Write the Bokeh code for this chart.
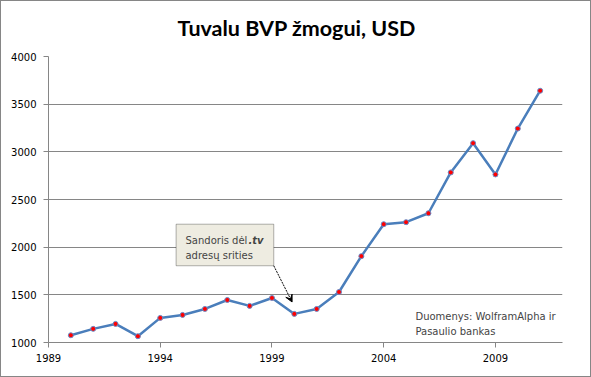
from bokeh.plotting import figure
from bokeh.models import Range1d, FixedTicker, BoxAnnotation, Arrow, VeeHead, Label
from bokeh.embed import file_html
from bokeh.resources import INLINE

years = list(range(1990, 2012))
gdp = [1076, 1143, 1195, 1066, 1258, 1289, 1352, 1446, 1384, 1467, 1300,
       1352, 1530, 1906, 2241, 2262, 2356, 2784, 3091, 2763, 3244, 3641]
x_ticks = [1989, 1994, 1999, 2004, 2009]
y_ticks = [1000, 1500, 2000, 2500, 3000, 3500, 4000]

title_text = "Tuvalu BVP žmogui, USD"
note_main = "Sandoris dėl "
note_bold = ".tv"
note_line2 = "adresų srities"
source_1 = "Duomenys: WolframAlpha ir"
source_2 = "Pasaulio bankas"

GRAY = "#868686"
FONT = "DejaVu Sans"

p = figure(width=591, height=377, output_backend="svg", toolbar_location=None,
           x_range=Range1d(1989, 2012), y_range=Range1d(1000, 4000),
           min_border_left=47, min_border_right=30, min_border_top=54, min_border_bottom=36)
p.styles = {"border": f"1px solid {GRAY}", "box-sizing": "border-box"}

p.title.text = title_text
p.title.align = "left"
p.title.offset = 129
p.title.vertical_align = "top"
p.title.standoff = 27
p.title.text_font = "Lato"
p.title.text_font_size = "21.5px"
p.title.text_font_style = "bold"
p.title.text_color = "black"

p.outline_line_color = None
p.background_fill_color = "white"
p.border_fill_color = "white"

p.xgrid.visible = False
p.ygrid.grid_line_color = GRAY
p.ygrid.grid_line_width = 1
p.ygrid.ticker = FixedTicker(ticks=y_ticks)

p.xaxis.ticker = FixedTicker(ticks=x_ticks)
p.yaxis.ticker = FixedTicker(ticks=y_ticks)
for ax in (p.xaxis, p.yaxis):
    ax.axis_line_color = GRAY
    ax.major_tick_line_color = GRAY
    ax.major_tick_out = 5
    ax.major_tick_in = 0
    ax.minor_tick_line_color = None
    ax.major_label_text_font = FONT
    ax.major_label_text_font_size = "10px"
    ax.major_label_text_color = "black"
p.yaxis.major_label_standoff = 7
p.xaxis.major_label_standoff = 6

p.line(years, gdp, line_color="#4A7EBB", line_width=2.5)
p.scatter(years, gdp, size=5, fill_color="#FF0000", line_color="#6A8CC8", line_width=1)

box = BoxAnnotation(left=1994.71, right=1999.08, top=2241, bottom=1805,
                    fill_color="#EEECE1", fill_alpha=1.0, line_color="black", line_width=1)
p.add_layout(box)
p.add_layout(Arrow(x_start=1999.08, y_start=1805, x_end=1999.9, y_end=1425,
                   line_color="black", line_width=1, line_dash="2 1",
                   end=VeeHead(size=7, fill_color="black", line_color="black")))

p.add_layout(Label(x=1995.13, y=2066, text=note_main, text_font=FONT,
                   text_font_size="10px", text_baseline="alphabetic"))
p.add_layout(Label(x=1995.13, y=2066, x_offset=63, text=note_bold, text_font=FONT,
                   text_font_size="10px", text_font_style="bold italic", text_baseline="alphabetic"))
p.add_layout(Label(x=1995.13, y=1909, text=note_line2, text_font=FONT,
                   text_font_size="10px", text_baseline="alphabetic"))

p.add_layout(Label(x=2005.42, y=1275, text=source_1, text_font=FONT,
                   text_font_size="10px", text_baseline="alphabetic"))
p.add_layout(Label(x=2005.42, y=1118, text=source_2, text_font=FONT,
                   text_font_size="10px", text_baseline="alphabetic"))

open("out.html", "w").write(file_html(p, INLINE))
